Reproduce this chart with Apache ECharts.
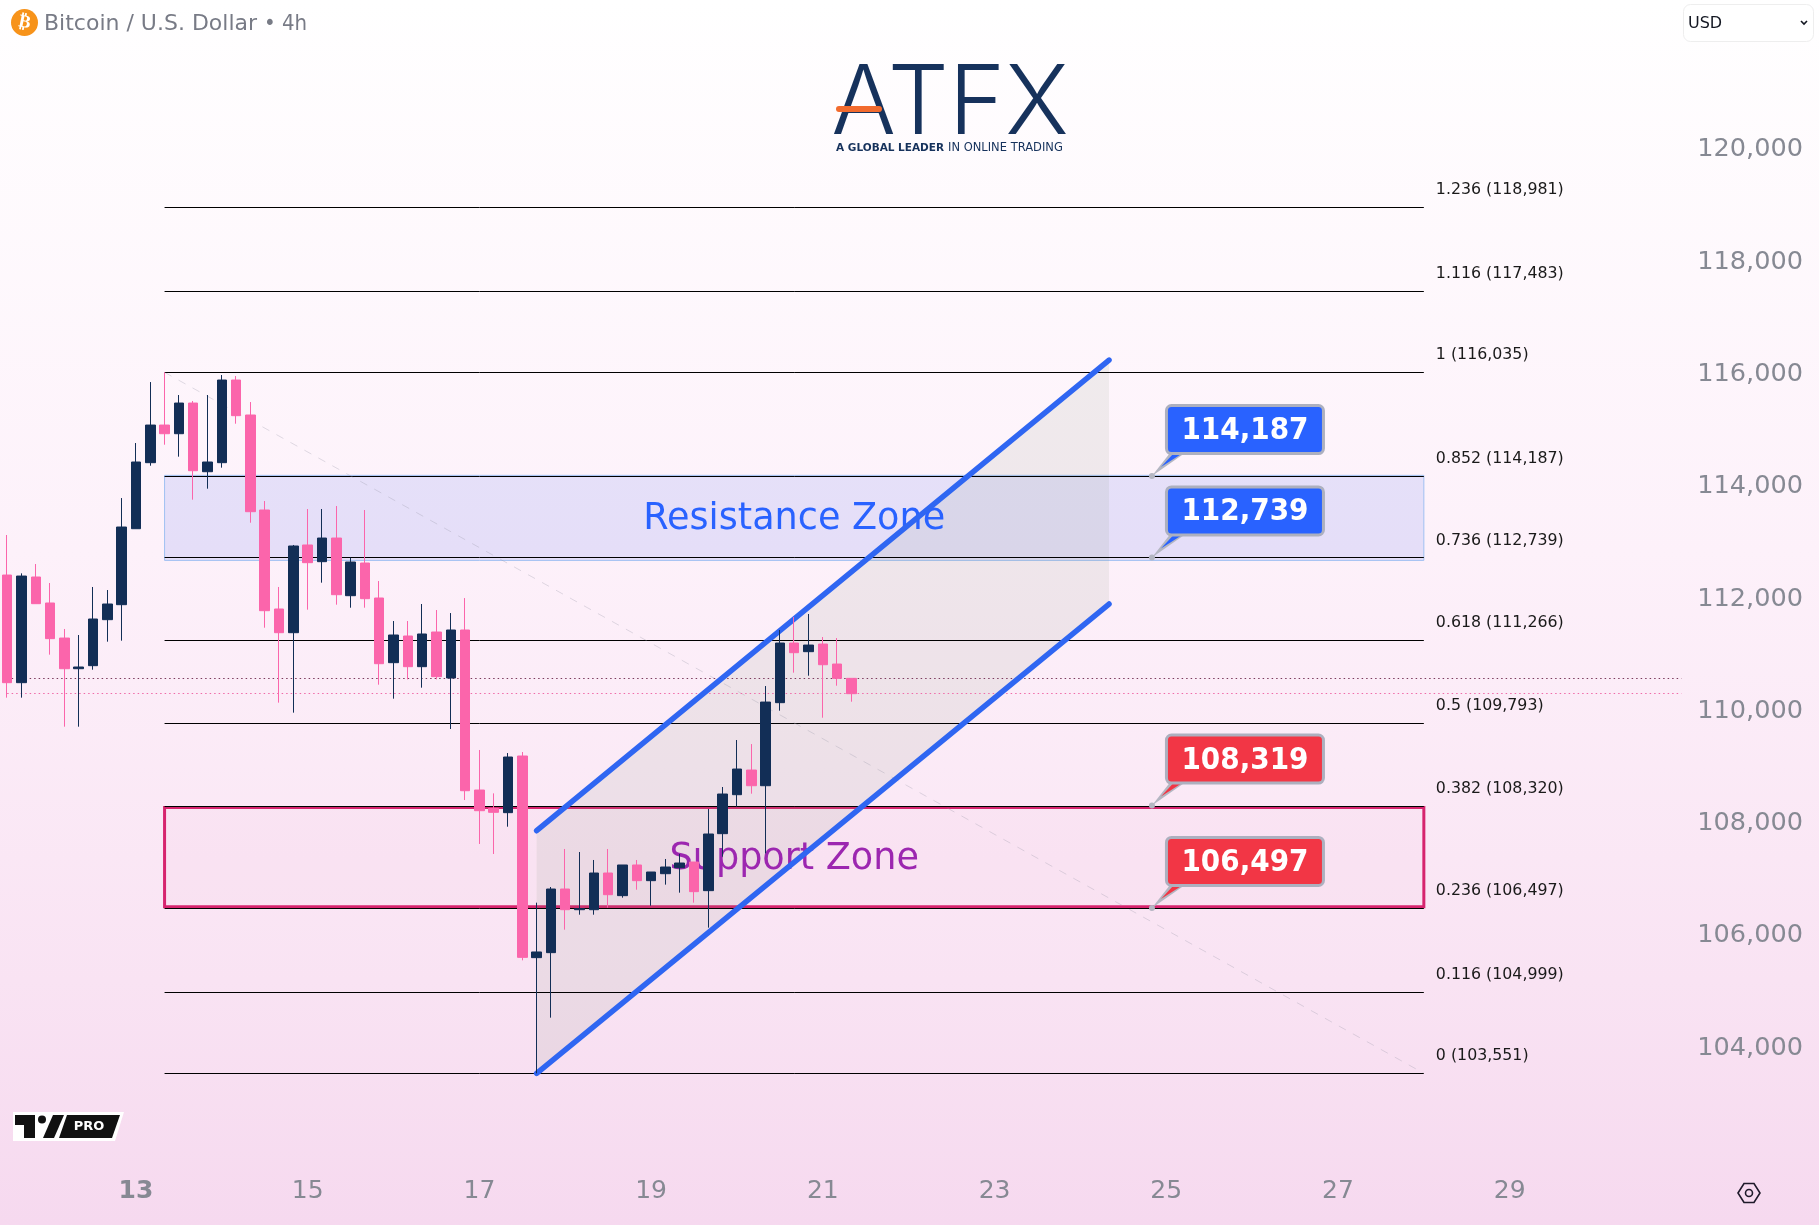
<!DOCTYPE html>
<html>
<head>
<meta charset="utf-8">
<title>Bitcoin / U.S. Dollar 4h</title>
<style>
html,body{margin:0;padding:0;width:100%;height:100%;}
#chart{width:1819px;height:1225px;}
</style>
<script src="https://cdn.jsdelivr.net/npm/echarts@6/dist/echarts.min.js"></script>
</head>
<body>
<div id="chart"></div>
<script>
// 4h candles: open, close, low, high
var candles = [
 [112425,110508,110241,113138],[110508,112407,110241,112455],[112390,111915,111915,112621],[111927,111292,111007,112283],
 [111303,110757,109724,111464],[110757,110787,109724,111357],[110811,111642,110739,112212],[111630,111909,111238,112158],
 [111897,113280,111256,113796],[113250,114438,113250,114776],[114426,115096,114372,115862],[115096,114942,114746,116034],
 [114942,115488,114533,115631],[115488,114283,113767,115524],[114265,114438,113963,115631],[114426,115898,114337,115987],
 [115898,115263,115120,115969],[115275,113553,113357,115506],[113583,111790,111487,113743],[111820,111398,110152,112212],
 [111398,112942,109974,112960],[112960,112645,111808,113601],[112663,113084,112289,113601],[113084,112075,111897,113654],
 [112057,112657,111843,112734],[112639,112004,111843,113583],[112016,110846,110472,112318],[110864,111357,110223,111606],
 [111339,110793,110567,111606],[110793,111375,110419,111909],[111410,110615,110567,111802],[110591,111446,109683,111748],
 [111446,108584,108418,112015],[108596,108228,107635,109309],[108270,108199,107457,108537],[108193,109184,107943,109255],
 [109202,105616,105563,109273],[105611,105712,103551,106590],[105700,106833,104542,106869],[106833,106465,106109,107546],
 [106465,106483,106376,107492],[106465,107118,106376,107350],[107118,106732,106501,107546],[106715,107261,106679,107261],
 [107261,106982,106821,107350],[106982,107136,106536,107136],[107106,107225,106911,107368],[107213,107296,106768,107457],
 [107314,106786,106590,107314],[106804,107813,106145,108258],[107819,108525,107409,108650],[108513,108970,108300,109487],
 [108952,108673,108531,109415],[108673,110163,107468,110448],[110152,111214,110009,111446],[111214,111042,110686,111677],
 [111060,111178,110632,111731],[111196,110828,109884,111321],[110840,110585,110454,111303],[110585,110312,110169,110585]
];
var slotCount = 117;
var tickIndex = [9,21,33,45,57,69,81,93,105];
var tickDays = ['13','15','17','19','21','23','25','27','29'];
var priceTicks = [104000,106000,108000,110000,112000,114000,116000,118000,120000];
var fibRatios = ['1.236','1.116','1','0.852','0.736','0.618','0.5','0.382','0.236','0.116','0'];
var fibPrices = [118981,117483,116035,114187,112739,111266,109793,108320,106497,104999,103551];
var fibText = ['118,981','117,483','116,035','114,187','112,739','111,266','109,793','108,320','106,497','104,999','103,551'];
var fibStart = 11, fibEnd = 99;
var lastPrices = [110585,110318];
var resistanceZone = [114200,112686];
var supportZone = [108285,106518];
var channelUpper = [[37,107871],[77,116254]];
var channelLower = [[37,103551],[77,111909]];
var calloutSlot = 80;
var calloutPrices = [114187,112739,108319,106497];
var calloutText = ['114,187','112,739','108,319','106,497'];

var NAVY = '#122e56', PINK = '#fb65ab', BLUE = '#2962ff', RED = '#f23645', GREY = '#868993';
var FONT = '"DejaVu Sans"';
var slotWidth = 14.31;

var categories = [];
for (var i = 0; i < slotCount; i++) categories.push(String(i));

function line(api, a, b, style) {
	var p = api.coord(a), q = api.coord(b);
	return {type:'line', shape:{x1:p[0],y1:p[1],x2:q[0],y2:q[1]}, style:style};
}

// horizontal line snapped to the pixel grid so it stays crisp
function hline(api, x1, x2, price, style) {
	var p = api.coord([x1, price]), q = api.coord([x2, price]);
	var y = Math.round(p[1]) + 0.5;
	return {type:'line', shape:{x1:p[0],y1:y,x2:q[0],y2:y}, style:style};
}

function renderUnder(params, api) {
	var kids = [];
	// zones
	var r1 = api.coord([fibStart, resistanceZone[0]]), r2 = api.coord([fibEnd, resistanceZone[1]]);
	kids.push({type:'rect', shape:{x:r1[0],y:r1[1],width:r2[0]-r1[0],height:r2[1]-r1[1]},
		style:{fill:'rgba(60,90,240,0.12)',stroke:'#9fc0f2',lineWidth:1}});
	var s1 = api.coord([fibStart, supportZone[0]]), s2 = api.coord([fibEnd, supportZone[1]]);
	kids.push({type:'rect', shape:{x:s1[0],y:s1[1],width:s2[0]-s1[0],height:s2[1]-s1[1]},
		style:{fill:'rgba(240,120,180,0.04)',stroke:'#d6246e',lineWidth:3}});
	// channel fill
	var pts = [api.coord(channelUpper[0]), api.coord(channelUpper[1]), api.coord(channelLower[1]), api.coord(channelLower[0])];
	kids.push({type:'polygon', shape:{points:pts}, style:{fill:'rgba(130,150,120,0.11)'}});
	// fib lines
	for (var i = 0; i < fibPrices.length; i++) {
		kids.push(hline(api, fibStart, fibEnd, fibPrices[i], {stroke:'#000',lineWidth:1}));
	}
	// trend line of the fib
	kids.push(line(api, [fibStart,fibPrices[2]], [fibEnd,fibPrices[10]], {stroke:'rgba(150,150,165,0.3)',lineWidth:1,lineDash:[8,8]}));
	// last price lines
	kids.push(hline(api, -0.5, 116.9, lastPrices[0], {stroke:'#7a3a5c',lineWidth:1,lineDash:[1.5,3]}));
	kids.push(hline(api, -0.5, 116.9, lastPrices[1], {stroke:'#f06aa8',lineWidth:1,lineDash:[1.5,3]}));
	// zone names
	var c1 = api.coord([55,(resistanceZone[0]+resistanceZone[1])/2]);
	kids.push({type:'text', x:c1[0], y:c1[1]+2, style:{text:'Resistance Zone',fill:BLUE,font:'36.6px '+FONT,align:'center',verticalAlign:'middle'}});
	var c2 = api.coord([55,(supportZone[0]+supportZone[1])/2]);
	kids.push({type:'text', x:c2[0], y:c2[1]+2, style:{text:'Support Zone',fill:'#9c27b0',font:'36.6px '+FONT,align:'center',verticalAlign:'middle'}});
	// channel edges
	kids.push(line(api, channelUpper[0], channelUpper[1], {stroke:'#2f66f2',lineWidth:5.5,lineCap:'round'}));
	kids.push(line(api, channelLower[0], channelLower[1], {stroke:'#2f66f2',lineWidth:5.5,lineCap:'round'}));
	return {type:'group', children:kids};
}

function renderOver(params, api) {
	var kids = [];
	// fib labels right of the lines
	for (var i = 0; i < fibPrices.length; i++) {
		var p = api.coord([fibEnd, fibPrices[i]]);
		kids.push({type:'text', x:p[0]+12, y:p[1]-17, style:{text:fibRatios[i]+' ('+fibText[i]+')',fill:'#1a1a1a',font:'15.8px '+FONT,align:'left',verticalAlign:'middle'}});
	}
	// price callouts
	for (var j = 0; j < calloutPrices.length; j++) {
		var a = api.coord([calloutSlot, calloutPrices[j]]);
		var ax = a[0], ay = a[1], fill = j < 2 ? BLUE : RED;
		kids.push({type:'polygon', shape:{points:[[ax,ay],[ax+18,ay-23],[ax+33,ay-23]]}, style:{fill:'#b4b6c2'}});
		kids.push({type:'polygon', shape:{points:[[ax+9,ay-9],[ax+22,ay-23],[ax+31,ay-23]]}, style:{fill:fill}});
		kids.push({type:'circle', shape:{cx:ax,cy:ay,r:3}, style:{fill:'#b4b6c2'}});
		kids.push({type:'rect', shape:{x:ax+14.5,y:ay-70.5,width:157,height:48,r:5}, style:{fill:fill,stroke:'#adb0bf',lineWidth:3}});
		kids.push({type:'text', x:ax+93,y:ay-45, style:{text:calloutText[j],fill:'#fff',font:'bold 31px "DejaVu Sans Condensed", '+FONT,align:'center',verticalAlign:'middle'}});
	}
	return {type:'group', children:kids};
}

function initChart() {
	var myChart = echarts.init(document.getElementById('chart'));
	var option = {
		animation: false,
		backgroundColor: new echarts.graphic.LinearGradient(0, 0, 0, 1, [
			{offset: 0, color: '#ffffff'},
			{offset: 0.45, color: '#fdf1fa'},
			{offset: 0.8, color: '#f9e3f3'},
			{offset: 1, color: '#f6d9ef'}
		]),
		grid: {left: 0, top: 37.4, width: slotCount * slotWidth, height: 1123},
		xAxis: {
			type: 'category',
			data: categories,
			axisLine: {show: false},
			axisTick: {show: false},
			splitLine: {show: false},
			axisLabel: {
				interval: function (index) { return tickIndex.indexOf(index) >= 0; },
				formatter: function (value, index) {
					var t = tickDays[tickIndex.indexOf(+value)];
					return t === '13' ? '{b|' + t + '}' : t;
				},
				color: GREY,
				fontFamily: FONT,
				fontSize: 25,
				margin: 19,
				rich: {b: {fontWeight: 'bold', color: GREY, fontFamily: FONT, fontSize: 25}}
			}
		},
		yAxis: {
			type: 'value',
			position: 'right',
			min: 102000,
			max: 122000,
			interval: 2000,
			axisLine: {show: false},
			axisTick: {show: false},
			splitLine: {show: false},
			axisLabel: {
				color: GREY,
				fontFamily: FONT,
				fontSize: 25.6,
				margin: 23,
				padding: [0, 0, 12, 0],
				formatter: function (v) {
					return priceTicks.indexOf(v) >= 0 ? v.toLocaleString('en-US') : '';
				}
			}
		},
		series: [
			{type: 'custom', z: 1, silent: true, renderItem: renderUnder, data: [0], clip: false},
			{
				type: 'candlestick',
				z: 2,
				data: candles,
				barWidth: 10,
				itemStyle: {color: NAVY, color0: PINK, borderColor: NAVY, borderColor0: PINK, borderWidth: 1}
			},
			{type: 'custom', z: 3, silent: true, renderItem: renderOver, data: [0], clip: false}
		],
		graphic: [
			// header
			{type:'circle', shape:{cx:24.5,cy:22.5,r:13.5}, style:{fill:'#f7931a'}},
			{type:'text', x:24.5, y:22.5, rotation:-0.2, style:{text:'₿',fill:'#fff',font:'bold 18px '+FONT,align:'center',verticalAlign:'middle'}},
			{type:'text', x:44, y:24, style:{text:'Bitcoin / U.S. Dollar',fill:'#787b86',font:'22px '+FONT,verticalAlign:'middle'}},
			{type:'text', x:264, y:24, style:{text:'• 4h',fill:'#787b86',font:'22px "DejaVu Sans Condensed", '+FONT,verticalAlign:'middle'}},
			// currency box
			{type:'rect', shape:{x:1683.5,y:4.5,width:130,height:37,r:7}, style:{fill:'#fff',stroke:'#eeeeee',lineWidth:1}},
			{type:'text', x:1688, y:24, style:{text:'USD',fill:'#131722',font:'16px '+FONT,verticalAlign:'middle'}},
			{type:'polyline', shape:{points:[[1801,21],[1804,24],[1807,21]]}, style:{stroke:'#131722',lineWidth:1.6,fill:null}},
			// logo
			{type:'text', x:950, y:105, style:{text:'ATFX',fill:'#16325c',font:'300 96px Inter',align:'center',verticalAlign:'middle'}},
			{type:'rect', shape:{x:836,y:106,width:46,height:6,r:3}, style:{fill:'#f26b2e'}},
			{type:'text', x:836, y:148, style:{text:'A GLOBAL LEADER',fill:'#16325c',font:'bold 10.5px '+FONT,verticalAlign:'middle'}},
			{type:'text', x:948, y:148, style:{text:'IN ONLINE TRADING',fill:'#16325c',font:'11.5px '+FONT,verticalAlign:'middle'}},
			// pro badge
			{type:'polygon', shape:{points:[[13,1112],[124,1112],[115,1141],[13,1141]]}, style:{fill:'#fff'}},
			{type:'polygon', shape:{points:[[15,1115],[35,1115],[35,1138],[24,1138],[24,1125],[15,1125]]}, style:{fill:'#111'}},
			{type:'circle', shape:{cx:42,cy:1119.5,r:4}, style:{fill:'#111'}},
			{type:'polygon', shape:{points:[[53,1115],[64,1115],[54,1138],[43,1138]]}, style:{fill:'#111'}},
			{type:'polygon', shape:{points:[[67,1115],[120,1115],[112,1138],[59,1138]]}, style:{fill:'#111'}},
			{type:'text', x:89, y:1127, style:{text:'PRO',fill:'#fff',font:'bold 13px '+FONT,align:'center',verticalAlign:'middle'}},
			// settings icon
			{type:'polygon', shape:{points:[[1738,1193],[1744,1183.5],[1754,1183.5],[1760,1193],[1754,1202.5],[1744,1202.5]]}, style:{fill:null,stroke:'#1f1a2a',lineWidth:1.6}},
			{type:'circle', shape:{cx:1749,cy:1193,r:3.5}, style:{fill:null,stroke:'#1f1a2a',lineWidth:1.6}}
		]
	};
	myChart.setOption(option);
}
initChart();
</script>
</body>
</html>
